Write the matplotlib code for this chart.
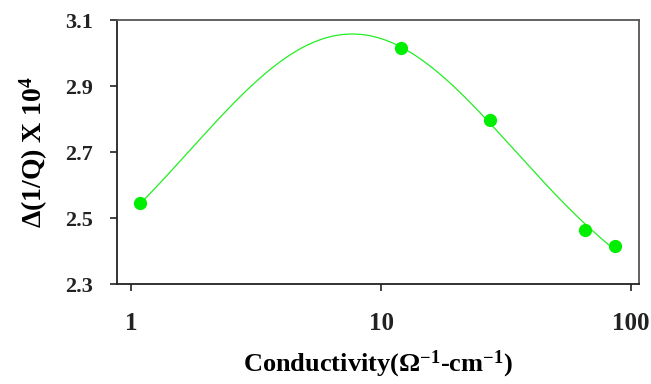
import numpy as np
import matplotlib
matplotlib.use("Agg")
import matplotlib.pyplot as plt
from matplotlib.ticker import NullLocator

plt.rcParams['font.family'] = ['Liberation Serif', 'DejaVu Serif']
plt.rcParams['font.weight'] = 'bold'
plt.rcParams['mathtext.fontset'] = 'custom'
plt.rcParams['mathtext.rm'] = 'Liberation Serif:bold'
plt.rcParams['mathtext.it'] = 'Liberation Serif:bold'
plt.rcParams['mathtext.bf'] = 'Liberation Serif:bold'

# measured points
conductivity = [1.09, 12.0, 27.4, 65.3, 86.3]
delta_q = [2.546, 3.014, 2.796, 2.463, 2.415]

y_ticks = [2.3, 2.5, 2.7, 2.9, 3.1]
x_ticks = [1, 10, 100]

green = '#00ee00'


def gauss_log_fit(x, y):
    """Least-squares peak y0 + a*exp(-0.5*((log10 x - c)/w)^2), grid over c and w."""
    lx = np.log10(x)
    y = np.asarray(y)
    best = None
    for c in np.linspace(0.5, 1.3, 161):
        for w in np.linspace(0.2, 2.0, 181):
            f = np.exp(-0.5 * ((lx - c) / w) ** 2)
            A = np.vstack([np.ones_like(f), f]).T
            p = np.linalg.lstsq(A, y, rcond=None)[0]
            r = np.sum((A @ p - y) ** 2)
            if best is None or r < best[0]:
                best = (r, c, w, p)
    return best[1:]


fig = plt.figure(figsize=(6.51, 3.84), dpi=100)
ax = fig.add_axes([0.1797, 0.2604, 0.8019, 0.6875])

c, w, p = gauss_log_fit(conductivity, delta_q)
xs = np.logspace(np.log10(conductivity[0]), np.log10(conductivity[-1]), 400)
ys = p[0] + p[1] * np.exp(-0.5 * ((np.log10(xs) - c) / w) ** 2)
ax.plot(xs, ys, color='#22ee22', lw=0.9)
ax.plot(conductivity, delta_q, 'o', color=green, ms=8.5, mec=green)

ax.set_xscale('log')
ax.set_xlim(0.879, 107.6)
ax.set_ylim(2.3, 3.1)
ax.set_xticks(x_ticks)
ax.set_xticklabels([str(t) for t in x_ticks])
ax.xaxis.set_minor_locator(NullLocator())
ax.set_yticks(y_ticks)
ax.set_yticklabels(['%.1f' % t for t in y_ticks])

ax.tick_params(axis='both', direction='out', length=5, width=1.2, colors='#222222')
ax.tick_params(axis='x', labelsize=18, pad=15)
ax.tick_params(axis='y', labelsize=16, pad=12)
for s in ['left', 'bottom']:
    ax.spines[s].set_color('#222222')
    ax.spines[s].set_linewidth(1.3)
for s in ['top', 'right']:
    ax.spines[s].set_color('#555555')
    ax.spines[s].set_linewidth(1.3)

ax.set_xlabel(r'Conductivity($\Omega^{-1}$-cm$^{-1}$)', fontsize=19, fontweight='bold', labelpad=10)
ax.set_ylabel(r'$\Delta$(1/Q) X 10$^4$', fontsize=20, fontweight='bold', labelpad=11)

fig.savefig('out.png', dpi=100)
